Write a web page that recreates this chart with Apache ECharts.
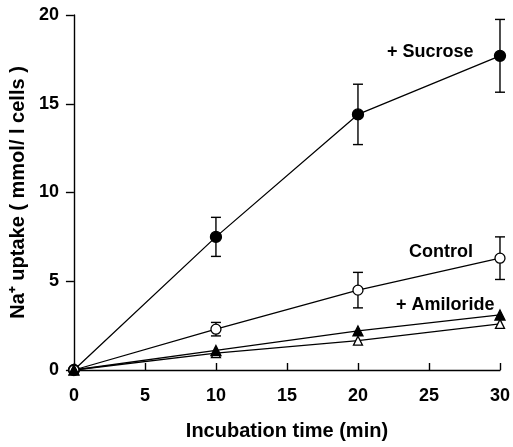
<!DOCTYPE html>
<html>
<head>
<meta charset="utf-8">
<script src="https://cdn.jsdelivr.net/npm/echarts@6/dist/echarts.min.js"></script>
<style>
  html, body { margin: 0; padding: 0; background: #fff; }
  #chart { width: 513px; height: 447px; }
</style>
</head>
<body>
<div id="chart"></div>
<script>
// incubation time (min)
const times = [0, 10, 20, 30];
// Na+ uptake, mmol / l cells
const sucrose = [0, 7.5, 14.4, 17.7];
const sucroseErr = [0, 1.1, 1.7, 2.05];
const control = [0, 2.3, 4.5, 6.3];
const controlErr = [0, 0.38, 1.0, 1.2];
const amiloride = [0, 1.1, 2.2, 3.1];
const amilorideOpen = [0, 0.95, 1.65, 2.6];
const xTicks = [0, 5, 10, 15, 20, 25, 30];
const yTicks = [0, 5, 10, 15, 20];

const FONT = 'Liberation Sans';
const ink = '#000';

function pairs(vals) {
  return times.map((t, i) => [t, vals[i]]);
}

function errData(vals, err) {
  return times.map((t, i) => [t, vals[i] - err[i], vals[i] + err[i]])
    .filter((d, i) => err[i] > 0);
}

// error bars with caps
function renderErr(params, api) {
  const x = api.value(0);
  const top = api.coord([x, api.value(2)]);
  const bot = api.coord([x, api.value(1)]);
  const half = 5;
  const style = { stroke: ink, lineWidth: 1.4 };
  return {
    type: 'group',
    children: [
      { type: 'line', shape: { x1: top[0], y1: top[1], x2: bot[0], y2: bot[1] }, style: style },
      { type: 'line', shape: { x1: top[0] - half, y1: top[1], x2: top[0] + half, y2: top[1] }, style: style },
      { type: 'line', shape: { x1: bot[0] - half, y1: bot[1], x2: bot[0] + half, y2: bot[1] }, style: style }
    ]
  };
}

function lineSeries(name, vals, symbol, size, filled) {
  return {
    name: name,
    type: 'line',
    data: pairs(vals),
    symbol: symbol,
    symbolSize: size,
    showAllSymbol: true,
    z: 3,
    lineStyle: { color: ink, width: 1.3 },
    itemStyle: {
      color: filled ? ink : '#fff',
      borderColor: ink,
      borderWidth: 1.3
    },
    emphasis: { disabled: true }
  };
}

function errSeries(vals, err) {
  return {
    type: 'custom',
    renderItem: renderErr,
    data: errData(vals, err),
    encode: { x: 0, y: [1, 2] },
    z: 2,
    silent: true
  };
}

const chart = echarts.init(document.getElementById('chart'));
chart.setOption({
  animation: false,
  backgroundColor: '#fff',
  grid: { left: 71, right: 10, top: 15, bottom: 77 },
  xAxis: {
    type: 'value',
    min: 0,
    max: 30,
    interval: 5,
    name: 'Incubation time (min)',
    nameLocation: 'middle',
    nameGap: 51,
    nameTextStyle: { fontFamily: FONT, fontWeight: 'bold', fontSize: 20, color: ink },
    axisLine: { lineStyle: { color: ink, width: 1.4 } },
    axisTick: { inside: true, length: 7, lineStyle: { color: ink, width: 1.4 } },
    axisLabel: {
      margin: 17,
      fontFamily: FONT, fontWeight: 'bold', fontSize: 18, color: ink,
      formatter: v => xTicks.includes(v) ? String(v) : ''
    },
    splitLine: { show: false }
  },
  yAxis: {
    type: 'value',
    min: 0,
    max: 20,
    interval: 5,
    name: 'Na\u207A uptake ( mmol/ l cells )',
    nameLocation: 'middle',
    nameGap: 39,
    nameTextStyle: { fontFamily: FONT, fontWeight: 'bold', fontSize: 20, color: ink },
    axisLine: { show: true, lineStyle: { color: ink, width: 1.4 } },
    axisTick: { show: true, inside: false, length: 8, lineStyle: { color: ink, width: 1.4 } },
    axisLabel: {
      margin: 15,
      fontFamily: FONT, fontWeight: 'bold', fontSize: 18, color: ink,
      formatter: v => yTicks.includes(v) ? String(v) : ''
    },
    splitLine: { show: false }
  },
  graphic: [
    { type: 'text', left: 387, top: 43, style: { text: '+ Sucrose', fill: ink, font: 'bold 18px "Liberation Sans"' } },
    { type: 'text', left: 409, top: 243, style: { text: 'Control', fill: ink, font: 'bold 18px "Liberation Sans"' } },
    { type: 'text', left: 396, top: 296, style: { text: '+ Amiloride', fill: ink, font: 'bold 18px "Liberation Sans"' } }
  ],
  series: [
    errSeries(sucrose, sucroseErr),
    errSeries(control, controlErr),
    lineSeries('+ Sucrose', sucrose, 'circle', 11, true),
    lineSeries('Control', control, 'circle', 10, false),
    lineSeries('Sucrose + amiloride', amilorideOpen, 'triangle', 9, false),
    lineSeries('+ Amiloride', amiloride, 'triangle', 10, true)
  ]
});
</script>
</body>
</html>
